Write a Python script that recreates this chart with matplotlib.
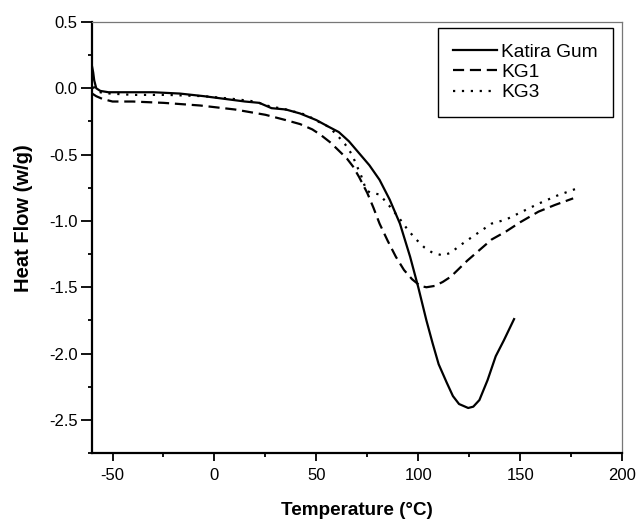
import matplotlib.pyplot as plt
from matplotlib.ticker import MultipleLocator

plt.rcParams['font.family'] = ['Liberation Sans', 'DejaVu Sans']
plt.rcParams['axes.unicode_minus'] = False

# Katira Gum (solid)
kg_x = [-60, -59.5, -59, -58, -56, -52, -45, -30, -17, -5, 5, 15, 22, 25, 28, 35, 42,
        50, 56, 61, 66, 71, 76, 81, 86, 91, 96, 100, 104, 107, 110, 114, 117, 120,
        124.5, 127, 130, 134, 138, 142, 147]
kg_y = [0.16, 0.12, 0.06, 0.0, -0.02, -0.03, -0.03, -0.03, -0.04, -0.06, -0.08, -0.1,
        -0.11, -0.13, -0.15, -0.16, -0.19, -0.24, -0.29, -0.33, -0.40, -0.49, -0.58,
        -0.69, -0.84, -1.02, -1.27, -1.50, -1.75, -1.92, -2.08, -2.22, -2.32, -2.38,
        -2.41, -2.40, -2.35, -2.20, -2.02, -1.90, -1.74]

# KG1 (dashed)
kg1_x = [-60, -58, -55, -50, -40, -25, -7, 10, 25, 35, 42, 48, 52, 57, 61, 65, 68, 71,
         75, 78, 81, 85, 89, 93, 97, 101, 104, 108, 112, 116, 120, 124, 130, 136, 143,
         150, 159, 167, 176]
kg1_y = [-0.04, -0.06, -0.08, -0.10, -0.10, -0.11, -0.13, -0.16, -0.20, -0.24, -0.27,
         -0.31, -0.35, -0.41, -0.47, -0.53, -0.59, -0.67, -0.79, -0.90, -1.02, -1.15,
         -1.27, -1.37, -1.44, -1.49, -1.50, -1.49, -1.46, -1.42, -1.36, -1.30, -1.22,
         -1.14, -1.08, -1.01, -0.93, -0.88, -0.83]

# KG3 (dotted)
kg3_x = [-60, -59.5, -59, -58, -55, -51, -40, -23, -5, 9, 20, 25.5, 35, 45, 52, 56, 60,
         64, 67.5, 70, 72, 74.5, 77, 81, 86, 90.7, 95, 99, 103, 107, 112, 116, 120,
         126.5, 136, 143, 151, 159, 168, 177]
kg3_y = [0.08, 0.04, 0.0, -0.02, -0.035, -0.04, -0.05, -0.05, -0.06, -0.08, -0.10,
         -0.13, -0.16, -0.2, -0.26, -0.29, -0.35, -0.42, -0.50, -0.59, -0.66, -0.77,
         -0.79, -0.80, -0.89, -0.98, -1.07, -1.14, -1.20, -1.24, -1.26, -1.24, -1.19,
         -1.12, -1.02, -0.99, -0.93, -0.87, -0.81, -0.76]

fig = plt.figure(figsize=(6.4, 5.22), dpi=100)
ax = fig.add_axes([0.144, 0.132, 0.828, 0.826])

ax.plot(kg_x, kg_y, color='black', lw=1.6, ls='-', label='Katira Gum')
ax.plot(kg1_x, kg1_y, color='black', lw=1.6, ls=(0, (5, 2.6)), label='KG1')
ax.plot(kg3_x, kg3_y, color='black', lw=1.6, ls=(0, (1, 3)), label='KG3')

ax.set_xlim(-60, 200)
ax.set_ylim(-2.75, 0.5)
ax.xaxis.set_major_locator(MultipleLocator(50))
ax.xaxis.set_minor_locator(MultipleLocator(25))
ax.yaxis.set_major_locator(MultipleLocator(0.5))
ax.yaxis.set_minor_locator(MultipleLocator(0.25))
ax.yaxis.set_major_formatter(plt.FuncFormatter(lambda v, p: f"{v:.1f}"))

ax.tick_params(which='both', direction='out', top=False, right=False,
               labelsize=12, width=1.3)
ax.tick_params(axis='y', which='major', length=8, pad=2.5)
ax.tick_params(axis='y', which='minor', length=3)
ax.tick_params(axis='x', which='major', length=6, pad=5)
ax.tick_params(axis='x', which='minor', length=3)

for s in ['left', 'bottom']:
    ax.spines[s].set_linewidth(1.6)
    ax.spines[s].set_color('black')
for s in ['top', 'right']:
    ax.spines[s].set_linewidth(0.9)
    ax.spines[s].set_color('#777777')

ax.set_xlabel('Temperature (°C)', fontsize=13.6, fontweight='bold')
ax.set_ylabel('Heat Flow (w/g)', fontsize=14.5, fontweight='bold')
ax.xaxis.set_label_coords(0.5, -0.114)
ax.yaxis.set_label_coords(-0.111, 0.545)

leg = ax.legend(loc='upper right', fontsize=13.8, handlelength=2.3,
                handletextpad=0.2, labelspacing=0.15, borderpad=0.8,
                borderaxespad=0, fancybox=False, framealpha=1,
                edgecolor='black', bbox_to_anchor=(0.983, 0.986))
leg.get_frame().set_linewidth(1.0)

fig.savefig('out.png', dpi=100)
